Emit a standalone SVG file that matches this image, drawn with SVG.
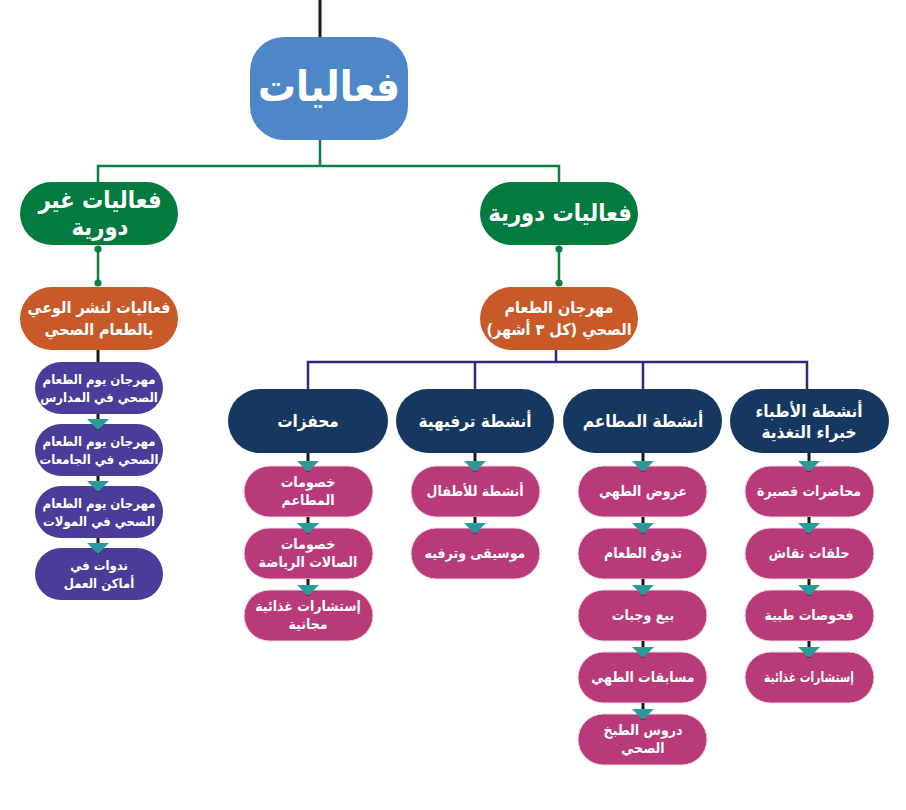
<svg xmlns="http://www.w3.org/2000/svg" width="906" height="810" viewBox="0 0 906 810">
<defs>
<style>
text{font-family:"DejaVu Sans Condensed","DejaVu Sans",sans-serif;font-weight:bold;fill:#fff;text-anchor:middle;direction:rtl}
.root{fill:#4e87c7}
.green{fill:#047b3e}
.orange{fill:#c85a2a}
.navy{fill:#16375f}
.purple{fill:#4a3d99}
.mag{fill:#b83a78;stroke:#f3d6e4;stroke-width:1}
.gl{stroke:#0b7f40;stroke-width:2.5;fill:none}
.nl{stroke:#2d2b7d;stroke-width:2.5;fill:none}
.bl{stroke:#1a1a1a;stroke-width:3;fill:none}
.ar{marker-end:url(#tri)}
.dt{marker-start:url(#dot);marker-end:url(#dot)}
.t44{font-size:42px}
.t20{font-size:23.5px}
.t15{font-size:16px}
.t17{font-size:17px}
.t13{font-size:14px}
.t12{font-size:13px}
</style>
<marker id="tri" markerUnits="userSpaceOnUse" markerWidth="22" markerHeight="11" viewBox="0 0 22 11" refX="11" refY="11" orient="0"><polygon points="0,0 22,0 11,11" fill="#2a9b98"/></marker>
<marker id="dot" markerUnits="userSpaceOnUse" markerWidth="8" markerHeight="8" viewBox="0 0 8 8" refX="4" refY="4" orient="0"><circle cx="4" cy="4" r="3.6" fill="#0b7f40"/></marker>
</defs>

<g id="n-root"><rect class="root" x="250" y="37" width="158" height="103" rx="34"/><text class="t44" x="329" y="101">فعاليات</text></g>

<g id="n-nonperiodic"><rect class="green" x="20" y="182" width="158" height="63" rx="31.5"/><text class="t20" x="100" y="208">فعاليات غير</text><text class="t20" x="100" y="235">دورية</text></g>
<g id="n-periodic"><rect class="green" x="480" y="182" width="158" height="63" rx="31.5"/><text class="t20" x="560" y="221">فعاليات دورية</text></g>

<g id="n-awareness"><rect class="orange" x="20" y="287" width="158" height="63" rx="31.5"/><text class="t15" x="99" y="313">فعاليات لنشر الوعي</text><text class="t15" x="99" y="335">بالطعام الصحي</text></g>
<g id="n-festival"><rect class="orange" x="480" y="287" width="158" height="63" rx="31.5"/><text class="t15" x="559" y="313">مهرجان الطعام</text><text class="t15" x="559" y="335">الصحي (كل ٣ أشهر)</text></g>

<g id="n-p1"><rect class="purple" x="35" y="362" width="128" height="52" rx="26"/><text class="t12" x="99" y="384">مهرجان يوم الطعام</text><text class="t12" x="99" y="402">الصحي في المدارس</text></g>
<g id="n-p2"><rect class="purple" x="35" y="424" width="128" height="52" rx="26"/><text class="t12" x="99" y="446">مهرجان يوم الطعام</text><text class="t12" x="99" y="464">الصحي في الجامعات</text></g>
<g id="n-p3"><rect class="purple" x="35" y="486" width="128" height="52" rx="26"/><text class="t12" x="99" y="508">مهرجان يوم الطعام</text><text class="t12" x="99" y="526">الصحي في المولات</text></g>
<g id="n-p4"><rect class="purple" x="35" y="548" width="128" height="52" rx="26"/><text class="t12" x="99" y="570">ندوات في</text><text class="t12" x="99" y="588">أماكن العمل</text></g>

<g id="n-incentives"><rect class="navy" x="228" y="389" width="160" height="64" rx="32"/><text class="t17" x="308" y="427">محفزات</text></g>
<g id="n-entertain"><rect class="navy" x="396" y="389" width="158" height="64" rx="32"/><text class="t17" x="475" y="427">أنشطة ترفيهية</text></g>
<g id="n-restaurants"><rect class="navy" x="563" y="389" width="159" height="64" rx="32"/><text class="t17" x="643" y="427">أنشطة المطاعم</text></g>
<g id="n-doctors"><rect class="navy" x="730" y="389" width="159" height="64" rx="32"/><text class="t17" x="809" y="417">أنشطة الأطباء</text><text class="t17" x="809" y="438">خبراء التغذية</text></g>

<g id="n-c1a"><rect class="mag" x="244" y="466" width="129" height="51" rx="25.5"/><text class="t13" x="308" y="487">خصومات</text><text class="t13" x="308" y="505">المطاعم</text></g>
<g id="n-c1b"><rect class="mag" x="244" y="528" width="129" height="51" rx="25.5"/><text class="t13" x="308" y="549">خصومات</text><text class="t13" x="308" y="567">الصالات الرياضة</text></g>
<g id="n-c1c"><rect class="mag" x="244" y="590" width="129" height="51" rx="25.5"/><text class="t13" x="308" y="611">إستشارات غذائية</text><text class="t13" x="308" y="629">مجانية</text></g>

<g id="n-c2a"><rect class="mag" x="411" y="466" width="129" height="51" rx="25.5"/><text class="t13" x="475" y="496">أنشطة للأطفال</text></g>
<g id="n-c2b"><rect class="mag" x="411" y="528" width="129" height="51" rx="25.5"/><text class="t13" x="475" y="558">موسيقى وترفيه</text></g>

<g id="n-c3a"><rect class="mag" x="578" y="466" width="129" height="51" rx="25.5"/><text class="t13" x="643" y="496">عروض الطهي</text></g>
<g id="n-c3b"><rect class="mag" x="578" y="528" width="129" height="51" rx="25.5"/><text class="t13" x="643" y="558">تذوق الطعام</text></g>
<g id="n-c3c"><rect class="mag" x="578" y="590" width="129" height="51" rx="25.5"/><text class="t13" x="643" y="620">بيع وجبات</text></g>
<g id="n-c3d"><rect class="mag" x="578" y="652" width="129" height="51" rx="25.5"/><text class="t13" x="643" y="682">مسابقات الطهي</text></g>
<g id="n-c3e"><rect class="mag" x="578" y="714" width="129" height="51" rx="25.5"/><text class="t13" x="643" y="735">دروس الطبخ</text><text class="t13" x="643" y="753">الصحي</text></g>

<g id="n-c4a"><rect class="mag" x="745" y="466" width="129" height="51" rx="25.5"/><text class="t13" x="809" y="496">محاضرات قصيرة</text></g>
<g id="n-c4b"><rect class="mag" x="745" y="528" width="129" height="51" rx="25.5"/><text class="t13" x="809" y="558">حلقات نقاش</text></g>
<g id="n-c4c"><rect class="mag" x="745" y="590" width="129" height="51" rx="25.5"/><text class="t13" x="809" y="620">فحوصات طبية</text></g>
<g id="n-c4d"><rect class="mag" x="745" y="652" width="129" height="51" rx="25.5"/><text class="t13" x="809" y="682" textLength="90" lengthAdjust="spacingAndGlyphs">إستشارات غذائية</text></g>

<g id="connectors">
<path class="bl" d="M320 0V37"/>
<path class="gl" d="M320 140V166H98V182M320 166H559V182"/>
<path class="gl dt" d="M98 249V283"/>
<path class="gl dt" d="M559 249V283"/>
<path class="bl" d="M98 350V362"/>
<path class="nl" d="M556 350V362M308 389V362H807V389M475 362V389M643 362V389"/>
<path class="bl ar" d="M98 414V430"/>
<path class="bl ar" d="M98 476V492"/>
<path class="bl ar" d="M98 538V554"/>
<path class="bl ar" d="M308 453V472"/>
<path class="bl ar" d="M308 517V534"/>
<path class="bl ar" d="M308 579V596"/>
<path class="bl ar" d="M475 453V472"/>
<path class="bl ar" d="M475 517V534"/>
<path class="bl ar" d="M643 453V472"/>
<path class="bl ar" d="M643 517V534"/>
<path class="bl ar" d="M643 579V596"/>
<path class="bl ar" d="M643 641V658"/>
<path class="bl ar" d="M643 703V720"/>
<path class="bl ar" d="M809 453V472"/>
<path class="bl ar" d="M809 517V534"/>
<path class="bl ar" d="M809 579V596"/>
<path class="bl ar" d="M809 641V658"/>
</g>
</svg>
